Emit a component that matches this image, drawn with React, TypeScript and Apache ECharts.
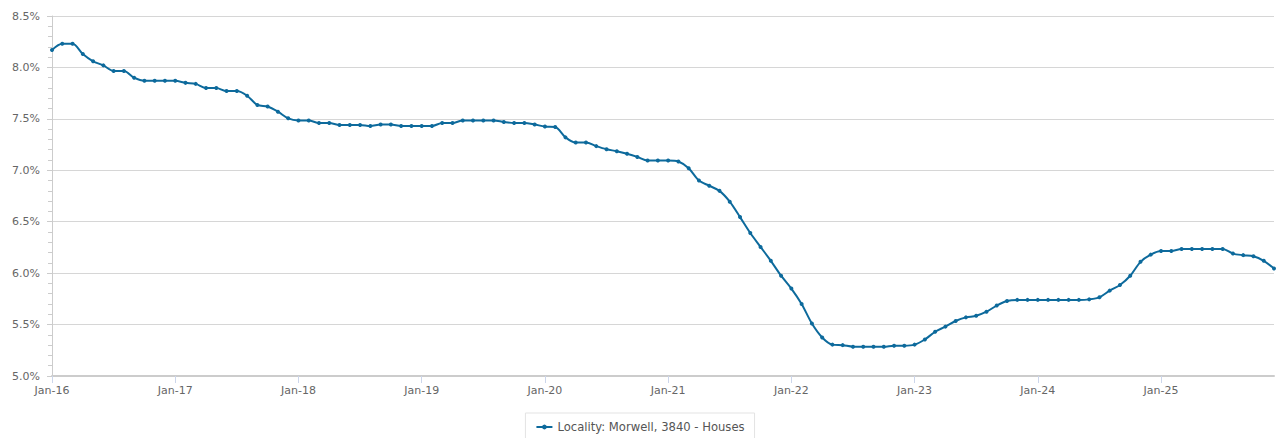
import React, { useEffect, useRef } from "react";
import * as echarts from "echarts";

const MONTHS = ["Jan", "Feb", "Mar", "Apr", "May", "Jun", "Jul", "Aug", "Sep", "Oct", "Nov", "Dec"];
const YEARS = ["16", "17", "18", "19", "20", "21", "22", "23", "24", "25"];
const categories: string[] = [];
YEARS.forEach((y) => MONTHS.forEach((m) => categories.push(`${m}-${y}`)));

const seriesName = "Locality: Morwell, 3840 - Houses";

const yieldValues = [
  8.17, 8.23, 8.23, 8.13, 8.06, 8.02, 7.965, 7.965, 7.9, 7.87, 7.87, 7.87,
  7.87, 7.85, 7.84, 7.8, 7.8, 7.77, 7.77, 7.725, 7.635, 7.62, 7.57, 7.505,
  7.485, 7.485, 7.46, 7.46, 7.44, 7.44, 7.44, 7.43, 7.445, 7.445, 7.43, 7.43,
  7.43, 7.43, 7.46, 7.46, 7.485, 7.485, 7.485, 7.485, 7.47, 7.46, 7.46, 7.445,
  7.425, 7.42, 7.32, 7.27, 7.27, 7.235, 7.205, 7.185, 7.16, 7.13, 7.095, 7.095,
  7.095, 7.085, 7.02, 6.9, 6.85, 6.8, 6.695, 6.545, 6.39, 6.255, 6.12, 5.975,
  5.85, 5.7, 5.51, 5.375, 5.305, 5.3, 5.285, 5.285, 5.285, 5.285, 5.295, 5.295,
  5.305, 5.355, 5.43, 5.48, 5.535, 5.57, 5.585, 5.625, 5.685, 5.73, 5.74, 5.74,
  5.74, 5.74, 5.74, 5.74, 5.74, 5.745, 5.765, 5.83, 5.885, 5.975, 6.11, 6.18,
  6.215, 6.215, 6.235, 6.235, 6.235, 6.235, 6.235, 6.19, 6.175, 6.165, 6.12, 6.045,
];

const LINE_COLOR = "#0d6a9c";
const FONT = "'DejaVu Sans', Verdana, sans-serif";

export default function App() {
  const ref = useRef<HTMLDivElement>(null);
  useEffect(() => {
    if (!ref.current) return;
    const chart = echarts.init(ref.current, undefined, { renderer: "svg" });
    chart.setOption({
      animation: false,
      backgroundColor: "#ffffff",
      grid: { left: 52, right: 6, top: 16, bottom: 62, containLabel: false },
      legend: {
        show: true,
        data: [seriesName],
        left: "center",
        top: 413,
        borderColor: "#e3e3e3",
        borderWidth: 1,
        borderRadius: 0,
        padding: [8, 10, 8, 10],
        itemWidth: 16,
        itemHeight: 6,
        itemGap: 6,
        textStyle: { fontFamily: FONT, fontSize: 11.6, color: "#555555" },
      },
      xAxis: {
        type: "category",
        data: categories,
        boundaryGap: false,
        axisLine: { show: true, lineStyle: { color: "#cccccc", width: 2 } },
        axisTick: {
          show: true,
          interval: (i: number) => i % 12 === 0,
          length: 7,
          lineStyle: { color: "#ccd6eb", width: 1 },
        },
        axisLabel: {
          interval: (i: number) => i % 12 === 0,
          color: "#666666",
          fontFamily: FONT,
          fontSize: 11,
          margin: 9,
        },
        splitLine: { show: false },
      },
      yAxis: {
        type: "value",
        min: 5,
        max: 8.5,
        interval: 0.5,
        axisLine: { show: true, lineStyle: { color: "#cccccc", width: 1 } },
        axisTick: { show: true, length: 5, lineStyle: { color: "#cccccc" } },
        minorTick: { show: true, splitNumber: 5, length: 4, lineStyle: { color: "#cccccc" } },
        axisLabel: {
          color: "#666666",
          fontFamily: FONT,
          fontSize: 11,
          margin: 12,
          formatter: (v: number) => v.toFixed(1) + "%",
        },
        splitLine: { show: true, lineStyle: { color: "#d6d6d6", width: 1 } },
      },
      series: [
        {
          name: seriesName,
          type: "line",
          data: yieldValues,
          smooth: 0.3,
          showSymbol: true,
          symbol: "circle",
          symbolSize: 4,
          itemStyle: { color: LINE_COLOR },
          lineStyle: { color: LINE_COLOR, width: 2 },
        },
      ],
    });
    return () => chart.dispose();
  }, []);
  return (
    <div
      ref={ref}
      style={{ position: "absolute", left: 0, top: 0, width: 1280, height: 438 }}
    />
  );
}
